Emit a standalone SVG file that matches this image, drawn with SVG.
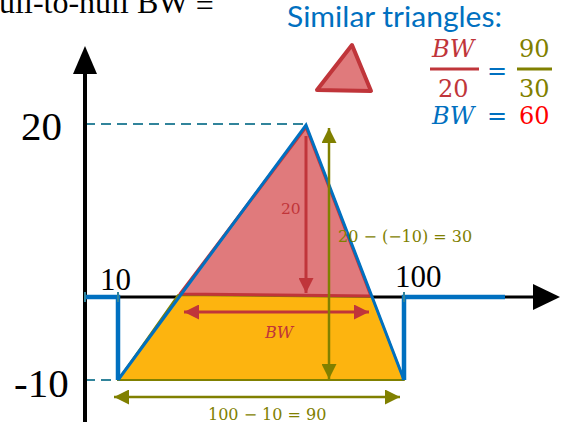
<svg xmlns="http://www.w3.org/2000/svg" width="564" height="427" viewBox="0 0 564 427">
<defs>
<style>
.serif{font-family:"Liberation Serif","Times New Roman",serif;fill:#000}
.math{font-family:"DejaVu Serif","Liberation Serif",serif}
.dash{stroke:#31849B;stroke-width:2;stroke-dasharray:10,6;fill:none}
.blue{stroke:#0070C0;fill:none;stroke-linejoin:miter}
.red{stroke:#C0353A}
.olive{stroke:#808000}
</style>
<marker id="ahRed" viewBox="0 0 10 10" refX="10" refY="5" markerWidth="5" markerHeight="5" orient="auto-start-reverse" markerUnits="strokeWidth"><path d="M0,0L10,5L0,10z" fill="#C0353A"/></marker>
<marker id="ahOlive" viewBox="0 0 10 10" refX="10" refY="5" markerWidth="6" markerHeight="6" orient="auto-start-reverse" markerUnits="strokeWidth"><path d="M0,0L10,5L0,10z" fill="#808000"/></marker>
</defs>
<rect width="564" height="427" fill="#fff"/>

<g id="title">
<text class="serif" x="-24" y="13" font-size="32">Null-to-null BW <tspan dy="3">=</tspan></text>
</g>

<g id="guides">
<line class="dash" x1="85" y1="124" x2="303" y2="124"/>
<line class="dash" x1="85" y1="380" x2="404" y2="380"/>
</g>

<g id="axes">
<line x1="85" y1="422" x2="85" y2="70" stroke="#000" stroke-width="4"/>
<path d="M73,74L85,46L97,74z" fill="#000"/>
<line x1="85" y1="297" x2="536" y2="297" stroke="#000" stroke-width="3"/>
<path d="M533,284L560,297L533,310z" fill="#000"/>
<text class="serif" x="21" y="140" font-size="41">20</text>
<text class="serif" x="14" y="397" font-size="41">-10</text>
<text class="serif" x="100" y="290" font-size="31">10</text>
<text class="serif" x="395" y="287" font-size="31">100</text>
</g>

<g id="trapezoid">
<path d="M178,295L372,297L404,380L118,380z" fill="#FDB40F" stroke="#808000" stroke-width="2" stroke-linejoin="round"/>
</g>

<g id="bigTriangle">
<path d="M306,127L371,296L180,294z" fill="#E07A7C" stroke="#C0353A" stroke-width="3" stroke-linejoin="round"/>
</g>

<g id="waveform">
<path class="blue" d="M85,297H118V380" stroke-width="4.5"/>
<path class="blue" d="M118,380L306,125L404,380" stroke-width="3"/>
<path class="blue" d="M404,380V297H505" stroke-width="4.5"/>
<g stroke="#31849B" stroke-width="2">
<line x1="85" y1="292" x2="85" y2="302"/>
<line x1="118" y1="292" x2="118" y2="302"/>
<line x1="404" y1="292" x2="404" y2="302"/>
</g>
</g>

<g id="connectors">
<line class="red" x1="306" y1="136" x2="306" y2="293" stroke-width="3" marker-end="url(#ahRed)"/>
<line class="red" x1="184" y1="312" x2="369" y2="312" stroke-width="3" marker-start="url(#ahRed)" marker-end="url(#ahRed)"/>
<line class="olive" x1="329" y1="128" x2="329" y2="379" stroke-width="2.5" marker-start="url(#ahOlive)" marker-end="url(#ahOlive)"/>
<line class="olive" x1="114" y1="397" x2="400" y2="397" stroke-width="2.5" marker-start="url(#ahOlive)" marker-end="url(#ahOlive)"/>
</g>

<g id="labels">
<text class="math" x="281" y="214" font-size="15.5" fill="#C0353A">20</text>
<text class="math" x="265" y="338" font-size="16" font-style="italic" fill="#C0353A">BW</text>
<text class="math" x="338" y="242" font-size="16" fill="#808000">20 − (−10) = 30</text>
<text class="math" x="208" y="420" font-size="16" fill="#808000">100 − 10 = 90</text>
</g>

<g id="similar">
<text x="287" y="27" font-family="Lato,'Open Sans',sans-serif" font-size="28" fill="#0070C0" textLength="215" lengthAdjust="spacingAndGlyphs">Similar triangles:</text>
<path d="M317,90L352,45L371,91z" fill="#E07A7C" stroke="#C0353A" stroke-width="4" stroke-linejoin="round"/>
<text class="math" x="432" y="57" font-size="24" font-style="italic" fill="#C0353A">BW</text>
<line x1="430" y1="69" x2="479" y2="69" stroke="#C0353A" stroke-width="3"/>
<text class="math" x="438" y="97" font-size="24" fill="#C0353A">20</text>
<text class="math" x="487" y="79" font-size="24" fill="#0070C0">=</text>
<text class="math" x="519" y="57" font-size="24" fill="#808000">90</text>
<line x1="517" y1="69" x2="552" y2="69" stroke="#808000" stroke-width="3"/>
<text class="math" x="519" y="97" font-size="24" fill="#808000">30</text>
<text class="math" x="432" y="124" font-size="24" font-style="italic" fill="#0070C0">BW</text>
<text class="math" x="487" y="124" font-size="24" fill="#0070C0">=</text>
<text class="math" x="519" y="124" font-size="24" fill="#FF0000">60</text>
</g>
</svg>
